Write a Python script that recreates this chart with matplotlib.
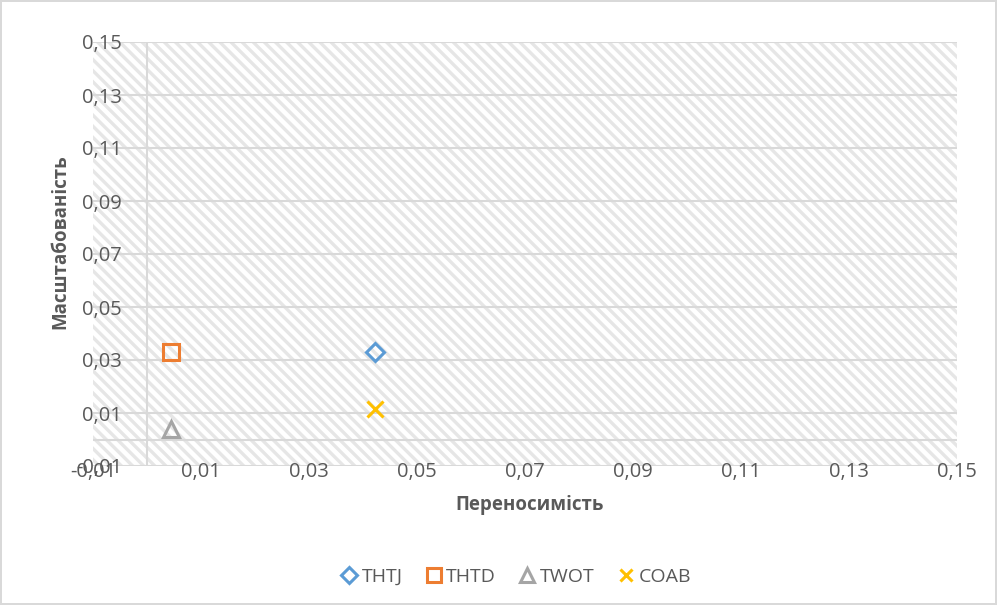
import matplotlib.pyplot as plt
from matplotlib.patches import Rectangle

plt.rcParams['font.family'] = ['Open Sans', 'DejaVu Sans']
plt.rcParams['hatch.color'] = '#e6e6e6'
plt.rcParams['hatch.linewidth'] = 2.4

# data
series = ['THTJ', 'THTD', 'TWOT', 'COAB']
x_vals = [0.0422, 0.0044, 0.0044, 0.0422]
y_vals = [0.033, 0.033, 0.004, 0.0115]
colors = ['#5B9BD5', '#ED7D31', '#A5A5A5', '#FFC000']
markers = ['D', 's', '^', 'x']
msizes = [9, 12, 12, 11]
ticks = [-0.01, 0.01, 0.03, 0.05, 0.07, 0.09, 0.11, 0.13, 0.15]
tick_labels = ['-0,01', '0,01', '0,03', '0,05', '0,07', '0,09', '0,11', '0,13', '0,15']

fig = plt.figure(figsize=(9.97, 6.05), dpi=100)
fig.patch.set_edgecolor('#d9d9d9')
fig.patch.set_linewidth(1.5)
ax = fig.add_axes([93 / 997, 1 - 466 / 605, 864 / 997, 424 / 605])

# hatched plot area
ax.add_patch(Rectangle((0, 0), 1, 1, transform=ax.transAxes, facecolor='white',
                       edgecolor='#e6e6e6', hatch='\\\\\\', linewidth=0, zorder=0))

ax.set_xlim(-0.01, 0.15)
ax.set_ylim(-0.01, 0.15)
for t in ticks:
    ax.axhline(t, color='#d9d9d9', lw=1.5, zorder=1)
ax.axvline(0, color='#d9d9d9', lw=1.5, zorder=1)
ax.axhline(0, color='#d9d9d9', lw=1.5, zorder=1)
for s in ax.spines.values():
    s.set_visible(False)

ax.set_xticks(ticks)
ax.set_xticklabels(tick_labels)
ax.set_yticks(ticks)
ax.set_yticklabels(tick_labels)
ax.tick_params(axis='both', length=0, labelsize=14.5, labelcolor='#595959')
ax.tick_params(axis='y', pad=-21)
ax.tick_params(axis='x', pad=-3)

for i in range(len(series)):
    ax.plot(x_vals[i], y_vals[i], linestyle='none', marker=markers[i], ms=msizes[i],
            mfc='none', mec=colors[i], mew=2.2, label=series[i], zorder=3)

fig.text(530 / 997, 1 - 505 / 605, 'Переносимість', ha='center', va='center',
         fontsize=13.5, fontweight='bold', color='#595959')
fig.text(60 / 997, 1 - 242 / 605, 'Масштабованість', ha='center', va='center',
         rotation=90, fontsize=13.5, fontweight='bold', color='#595959')

leg = fig.legend(loc='center', bbox_to_anchor=(515 / 997, 1 - 577 / 605), ncol=4,
                 frameon=False, fontsize=14, handletextpad=0.15, columnspacing=1.1,
                 handlelength=1.0, markerscale=0.85)
for t in leg.get_texts():
    t.set_color('#595959')

fig.savefig('out.png', dpi=100, edgecolor=fig.get_edgecolor())
